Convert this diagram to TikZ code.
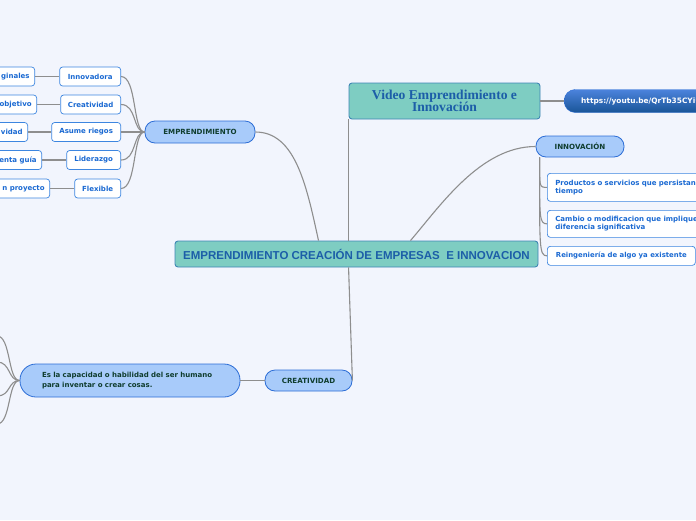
\documentclass[tikz,border=0pt]{standalone}
\usepackage{fontspec}
\setmainfont{DejaVu Sans}
\newfontfamily\rootfont{Liberation Sans}
\newfontfamily\titlefont{Liberation Serif}
\usetikzlibrary{positioning}

\definecolor{pagebg}{HTML}{F2F5FD}
\definecolor{tealfill}{HTML}{7ECDC2}
\definecolor{tealline}{HTML}{3F86B4}
\definecolor{rootblue}{HTML}{1C5EA8}
\definecolor{topicfill}{HTML}{A8CBFA}
\definecolor{topicline}{HTML}{2C6DD6}
\definecolor{topictext}{HTML}{0F3D2E}
\definecolor{leafline}{HTML}{3D86E0}
\definecolor{leaftext}{HTML}{1A69D2}
\definecolor{linkgray}{HTML}{8E8E8E}

\begin{document}
\begin{tikzpicture}[
  x=1pt, y=-1pt,
  root/.style={draw=tealline, fill=tealfill, rounded corners=3pt, line width=0.9pt,
    inner sep=0pt, text=rootblue, font=\rootfont\bfseries\fontsize{11.5}{13}\selectfont},
  topic/.style={draw=topicline, fill=topicfill, rounded corners=10pt, line width=0.8pt,
    inner sep=0pt, text=topictext, font=\bfseries\fontsize{7.1}{8}\selectfont},
  leaf/.style={draw=leafline, fill=white, rounded corners=3pt, line width=0.7pt,
    inner sep=0pt, minimum height=19pt, text=leaftext, font=\bfseries\fontsize{7}{8.2}\selectfont},
  cutleaf/.style={leaf, anchor=east, text width=70pt, align=right, inner xsep=5pt},
  link/.style={draw=linkgray, line width=1.1pt}
]
\useasboundingbox (0,0) rectangle (696,520);
\clip (0,0) rectangle (696,520);
\fill[pagebg] (0,0) rectangle (696,520);

% central node and main topics
\node[root, minimum width=363pt, minimum height=26pt] (root) at (356.5,254)
  {EMPRENDIMIENTO CREACIÓN DE EMPRESAS \ E INNOVACION};
\node[root, minimum width=191pt, minimum height=36pt, align=center,
  font=\titlefont\bfseries\fontsize{13.6}{12.5}\selectfont] (video) at (444.5,101)
  {Video Emprendimiento e\\Innovación};
\node[anchor=west, minimum width=160pt, minimum height=23pt, inner sep=0pt,
  rounded corners=11pt, draw=topicline, top color=topicline!85!white, bottom color=rootblue!90!black,
  text=white, font=\bfseries\fontsize{7.4}{9}\selectfont, text width=126pt, inner xsep=17pt, align=left]
  (url) at (564,101) {https://youtu.be/QrTb35CYiU};
\node[topic, minimum width=88pt, minimum height=21pt] (inno) at (580,146.5) {INNOVACIÓN};
\node[topic, minimum width=110pt, minimum height=22pt] (emp) at (200,132) {EMPRENDIMIENTO};
\node[topic, minimum width=87pt, minimum height=21pt] (crea) at (308.5,380.5) {CREATIVIDAD};
\node[topic, minimum height=33pt, rounded corners=16pt, text width=176pt, inner xsep=22pt,
  align=left, font=\fontsize{7}{10}\selectfont\bfseries] (desc) at (130,380.5)
  {Es la capacidad o habilidad del ser humano\\para inventar o crear cosas.};

% innovacion leaves
\node[leaf, anchor=north west, minimum height=28pt, text width=170pt, inner xsep=8pt, align=left]
  (p1) at (547,173) {Productos o servicios que persistan\\tiempo};
\node[leaf, anchor=north west, minimum height=27pt, text width=170pt, inner xsep=8pt, align=left]
  (p2) at (547,210) {Cambio o modificacion que implique\\diferencia significativa};
\node[leaf, anchor=north west, minimum width=148pt, inner xsep=5pt, font=\bfseries\fontsize{6.9}{8.2}\selectfont]
  (p3) at (547,246) {Reingeniería de algo ya existente};

% emprendimiento leaves
\node[leaf, anchor=east, minimum width=61pt] (c1) at (121,76.5) {Innovadora};
\node[leaf, anchor=east, minimum width=60pt] (c2) at (121,104.5) {Creatividad};
\node[leaf, anchor=east, minimum width=69pt] (c3) at (121,132) {Asume riegos};
\node[leaf, anchor=east, minimum width=54pt] (c4) at (121,160) {Liderazgo};
\node[leaf, anchor=east, minimum width=46pt] (c5) at (121,188.5) {Flexible};
\node[cutleaf] (g1) at (35,76.5) {ginales};
\node[cutleaf] (g2) at (37,104.5) {objetivo};
\node[cutleaf] (g3) at (28,132) {vidad};
\node[cutleaf] (g4) at (42,160) {enta guía};
\node[cutleaf] (g5) at (50,188.5) {n proyecto};

% loose ends of the creatividad branch
\coordinate (f1) at (-3,336);
\coordinate (f2) at (-3,362);
\coordinate (f3) at (-3,396);
\coordinate (f4) at (-3,424);

% connectors
\draw[link] (emp.east) .. controls +(40,0) and +(-12,-55) .. ([xshift=-38pt]root.north);
\draw[link] (video.south west) -- (video.south west |- root.north);
\draw[link] ([xshift=54pt]root.north) .. controls +(30,-35) and +(-55,0) .. (inno.west);
\draw[link] (video.south west |- root.south) -- (crea.east);
\draw[link] (video.east) -- (url.west);
\draw[link] (crea.west) -- (desc.east);
\foreach \c in {c1,c2,c3,c4,c5}
  \draw[link] (\c.east) .. controls +(16,0) and +(-12,0) .. (emp.west);
\foreach \g/\c in {g1/c1,g2/c2,g3/c3,g4/c4,g5/c5}
  \draw[link] (\g.east) -- (\c.west);
\foreach \p/\d in {p1/30,p2/60,p3/90}
  \draw[link] ([xshift=4pt]inno.south west) .. controls +(0,\d) and +(-8,0) .. (\p.west);
\foreach \f in {f1,f2,f3,f4}
  \draw[link] (desc.west) .. controls +(-12,0) and +(14,0) .. (\f);
\end{tikzpicture}
\end{document}
